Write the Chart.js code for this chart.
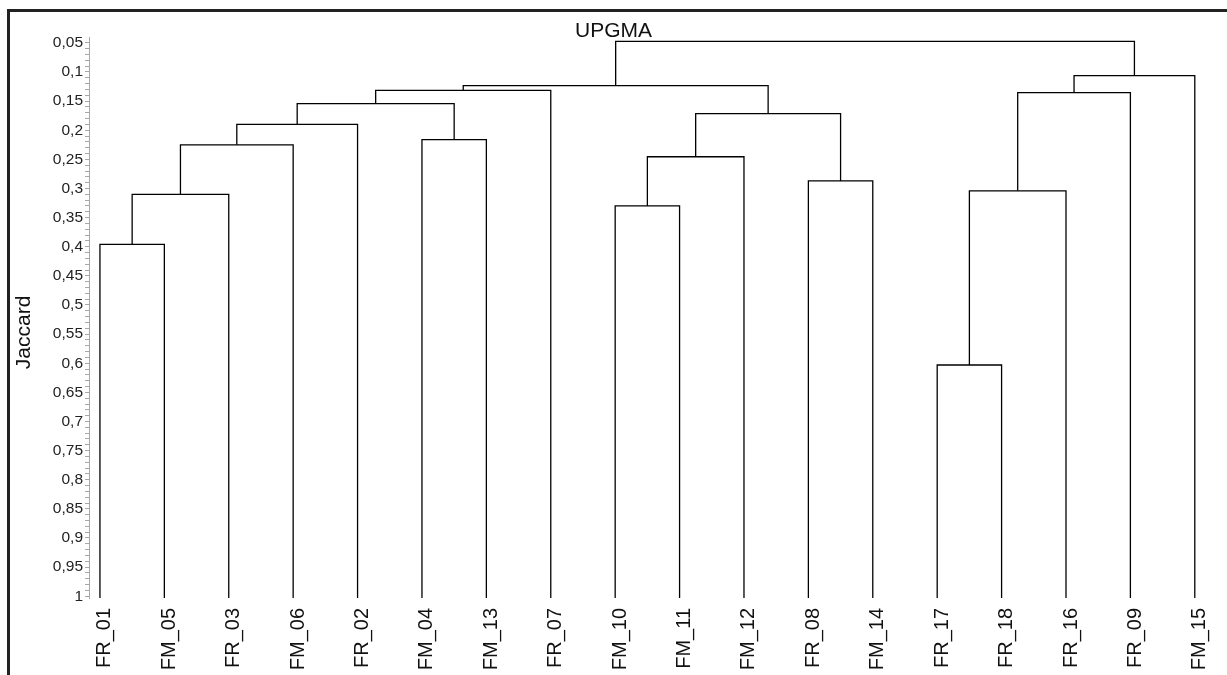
<!DOCTYPE html>
<html>
<head>
<meta charset="utf-8">
<script src="https://cdn.jsdelivr.net/npm/chart.js@4/dist/chart.umd.min.js"></script>
<style>
  html, body { margin: 0; padding: 0; background: #ffffff; overflow: hidden; }
  #wrap { position: relative; width: 1227px; height: 675px; }
  #frame { position: absolute; left: 7px; top: 9px; width: 1400px; height: 900px;
           border-left: 3px solid #222; border-top: 3px solid #222; pointer-events: none; }
</style>
</head>
<body>
<div id="wrap">
  <canvas id="c" width="1227" height="675"></canvas>
  <div id="frame"></div>
</div>
<script>
// ---- data ----
const leaves = ['FR_01','FM_05','FR_03','FM_06','FR_02','FM_04','FM_13','FR_07','FM_10',
                'FM_11','FM_12','FR_08','FM_14','FR_17','FR_18','FR_16','FR_09','FM_15'];
// each merge creates a new cluster numbered leaves.length + k
const mergeLeft   = [0,  18, 19, 20, 5,  21, 23, 8,  25, 11, 26, 24, 13, 30, 31, 32, 29];
const mergeRight  = [1,  2,  3,  4,  6,  22, 7,  9,  10, 12, 27, 28, 14, 15, 16, 17, 33];
const mergeHeight = [0.396, 0.310, 0.225, 0.190, 0.216, 0.1545, 0.1316, 0.330, 0.2455,
                     0.287, 0.1716, 0.1235, 0.603, 0.304, 0.1356, 0.1063, 0.0474];
const yMajorTicks = [0.05,0.1,0.15,0.2,0.25,0.3,0.35,0.4,0.45,0.5,0.55,0.6,0.65,0.7,0.75,0.8,0.85,0.9,0.95,1];
const titleText = 'UPGMA';
const yTitle = 'Jaccard';

const Y_MIN = 0.041, Y_MAX = 1.003;
const FONT = '"Liberation Sans", Arial, Helvetica, sans-serif';

// ---- build link segments through the scales ----
const nodeX = leaves.map((_, i) => i);
const nodeY = leaves.map(() => Y_MAX);
const datasets = [];
mergeHeight.forEach((h, k) => {
  const a = mergeLeft[k], b = mergeRight[k];
  datasets.push({
    data: [
      { x: nodeX[a], y: nodeY[a] },
      { x: nodeX[a], y: h },
      { x: nodeX[b], y: h },
      { x: nodeX[b], y: nodeY[b] }
    ],
    showLine: true,
    borderColor: '#000',
    borderWidth: 1.3,
    borderJoinStyle: 'miter',
    borderCapStyle: 'butt',
    pointRadius: 0,
    pointHoverRadius: 0,
    tension: 0,
    fill: false
  });
  nodeX.push((nodeX[a] + nodeX[b]) / 2);
  nodeY.push(h);
});

const minorValues = [];
for (let k = 5; k <= 100; k++) minorValues.push(k / 100);
const isMajor = v => yMajorTicks.some(m => Math.abs(m - v) < 1e-6);
const fmt = v => String(+v.toFixed(2)).replace('.', ',');

new Chart(document.getElementById('c'), {
  type: 'scatter',
  data: { datasets },
  options: {
    responsive: false,
    animation: false,
    events: [],
    layout: { padding: 0 },
    plugins: {
      legend: { display: false },
      tooltip: { enabled: false },
      title: {
        display: true,
        text: titleText,
        color: '#111',
        font: { family: FONT, size: 21, weight: 'normal', lineHeight: 0.6 },
        padding: { top: 25, bottom: 0 }
      }
    },
    scales: {
      x: {
        type: 'linear',
        position: 'bottom',
        min: -0.17,
        max: 17.5,
        grid: { display: false, drawTicks: false },
        border: { display: false },
        afterBuildTicks: s => { s.ticks = leaves.map((_, i) => ({ value: i })); },
        afterFit: s => { s.height = 77; s.paddingLeft = 0; s.paddingRight = 0; },
        ticks: {
          autoSkip: false,
          minRotation: 90,
          maxRotation: 90,
          labelOffset: 5,
          padding: 10,
          color: '#111',
          font: { family: FONT, size: 20 },
          callback: v => leaves[Math.round(v)]
        }
      },
      y: {
        type: 'linear',
        reverse: true,
        min: Y_MIN,
        max: Y_MAX,
        grid: { display: true, drawOnChartArea: false, drawTicks: true, tickLength: 4, tickColor: '#a8a8a8', tickWidth: 1 },
        border: { display: true, color: '#a8a8a8', width: 1 },
        afterBuildTicks: s => { s.ticks = minorValues.map(v => ({ value: v })); },
        afterFit: s => { s.width = 89; },
        title: {
          display: true,
          // trailing spaces only shift the centred label down, as in the reference
          text: yTitle + '     ',
          color: '#111',
          font: { family: FONT, size: 21, weight: 'normal' },
          padding: { top: 12, bottom: 0 }
        },
        ticks: {
          autoSkip: false,
          padding: 2,
          color: '#222',
          font: { family: FONT, size: 15.5 },
          callback: v => isMajor(v) ? fmt(v) : ''
        }
      }
    }
  }
});
</script>
</body>
</html>
